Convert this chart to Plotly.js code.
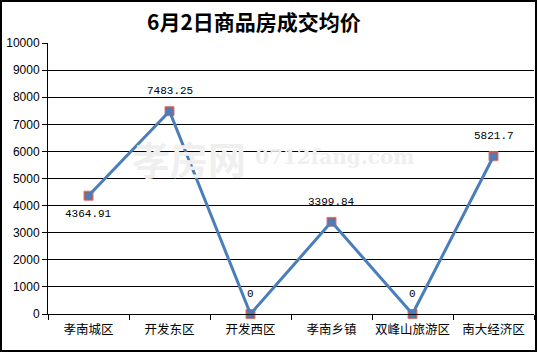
<!DOCTYPE html>
<html>
<head>
<meta charset="utf-8">
<script src="https://cdn.plot.ly/plotly-3.0.1.min.js"></script>
<style>
html,body{margin:0;padding:0;background:#fff;}
#wrap{position:relative;width:538px;height:353px;}
#chart{width:538px;height:353px;}
#frame{position:absolute;left:0;top:0;width:533px;height:348px;border:2px solid #000;pointer-events:none;}
</style>
</head>
<body>
<div id="wrap"><div id="chart"></div><div id="frame"></div></div>
<script>
const categories = ["孝南城区", "开发东区", "开发西区", "孝南乡镇", "双峰山旅游区", "南大经济区"];
const prices = [4364.91, 7483.25, 0, 3399.84, 0, 5821.7];
const priceLabels = ["4364.91", "7483.25", "0", "3399.84", "0", "5821.7"];
const labelBelow = [true, false, false, false, false, false];
const yTicks = [0, 1000, 2000, 3000, 4000, 5000, 6000, 7000, 8000, 9000, 10000];

const squareTrace = {
  x: categories, y: prices, type: "scatter", mode: "markers",
  marker: {symbol: "square", size: 9, color: "#c0504d", line: {width: 1, color: "#d07a77"}},
  hoverinfo: "skip", showlegend: false, cliponaxis: false
};
const lineTrace = {
  x: categories, y: prices, type: "scatter", mode: "lines+markers",
  line: {color: "#4a7ebb", width: 3},
  marker: {symbol: "circle", size: 7, color: "#4a7ebb"},
  showlegend: false, cliponaxis: false
};

const labelAnnotations = categories.map((c, i) => ({
  x: c, y: prices[i], xref: "x", yref: "y", text: priceLabels[i], showarrow: false,
  xanchor: "center", yanchor: "middle", yshift: labelBelow[i] ? -18 : 20,
  font: {family: "Liberation Mono, DejaVu Sans Mono, monospace", size: 11, color: "#000"}
}));

const layout = {
  width: 538, height: 353,
  margin: {l: 48, r: 4, t: 43, b: 39},
  paper_bgcolor: "#fff", plot_bgcolor: "#fff",
  title: {text: "6月2日商品房成交均价", x: 0.472, xref: "container", xanchor: "center", y: 0.935, yref: "container", yanchor: "middle",
          font: {family: "Noto Sans CJK SC, sans-serif", size: 21, color: "#000", weight: "bold"}},
  xaxis: {
    type: "category", range: [-0.5, 5.5], tickvals: categories, tickangle: 0,
    tickson: "boundaries", ticks: "outside", ticklen: 5, tickcolor: "#000", tickwidth: 1,
    ticklabelstandoff: 4,
    showgrid: false, showline: true, linecolor: "#000", linewidth: 1,
    tickfont: {family: "Noto Sans CJK SC, sans-serif", size: 12.5, color: "#000"},
    zeroline: false
  },
  yaxis: {
    range: [0, 10000], tickvals: yTicks, ticktext: yTicks.map(String),
    ticks: "outside", ticklen: 5, tickcolor: "#000",
    showgrid: true, gridcolor: "#000", gridwidth: 1,
    showline: true, linecolor: "#000", linewidth: 1, zeroline: false,
    tickfont: {family: "Liberation Sans, Arial, sans-serif", size: 12, color: "#000"}
  },
  annotations: [
    {text: "孝房网", xref: "paper", yref: "paper", x: 0.169, y: 0.579, xanchor: "left", yanchor: "middle", showarrow: false,
     font: {family: "Noto Sans CJK SC, sans-serif", size: 38, color: "#efefef", weight: "bold"}},
    {text: "0712fang.com", xref: "paper", yref: "paper", x: 0.422, y: 0.579, xanchor: "left", yanchor: "middle", showarrow: false,
     font: {family: "DejaVu Serif, serif", size: 20, color: "#efefef", weight: "bold"}}
  ].concat(labelAnnotations)
};

Plotly.newPlot("chart", [squareTrace, lineTrace], layout, {displayModeBar: false, staticPlot: true});
</script>
</body>
</html>
